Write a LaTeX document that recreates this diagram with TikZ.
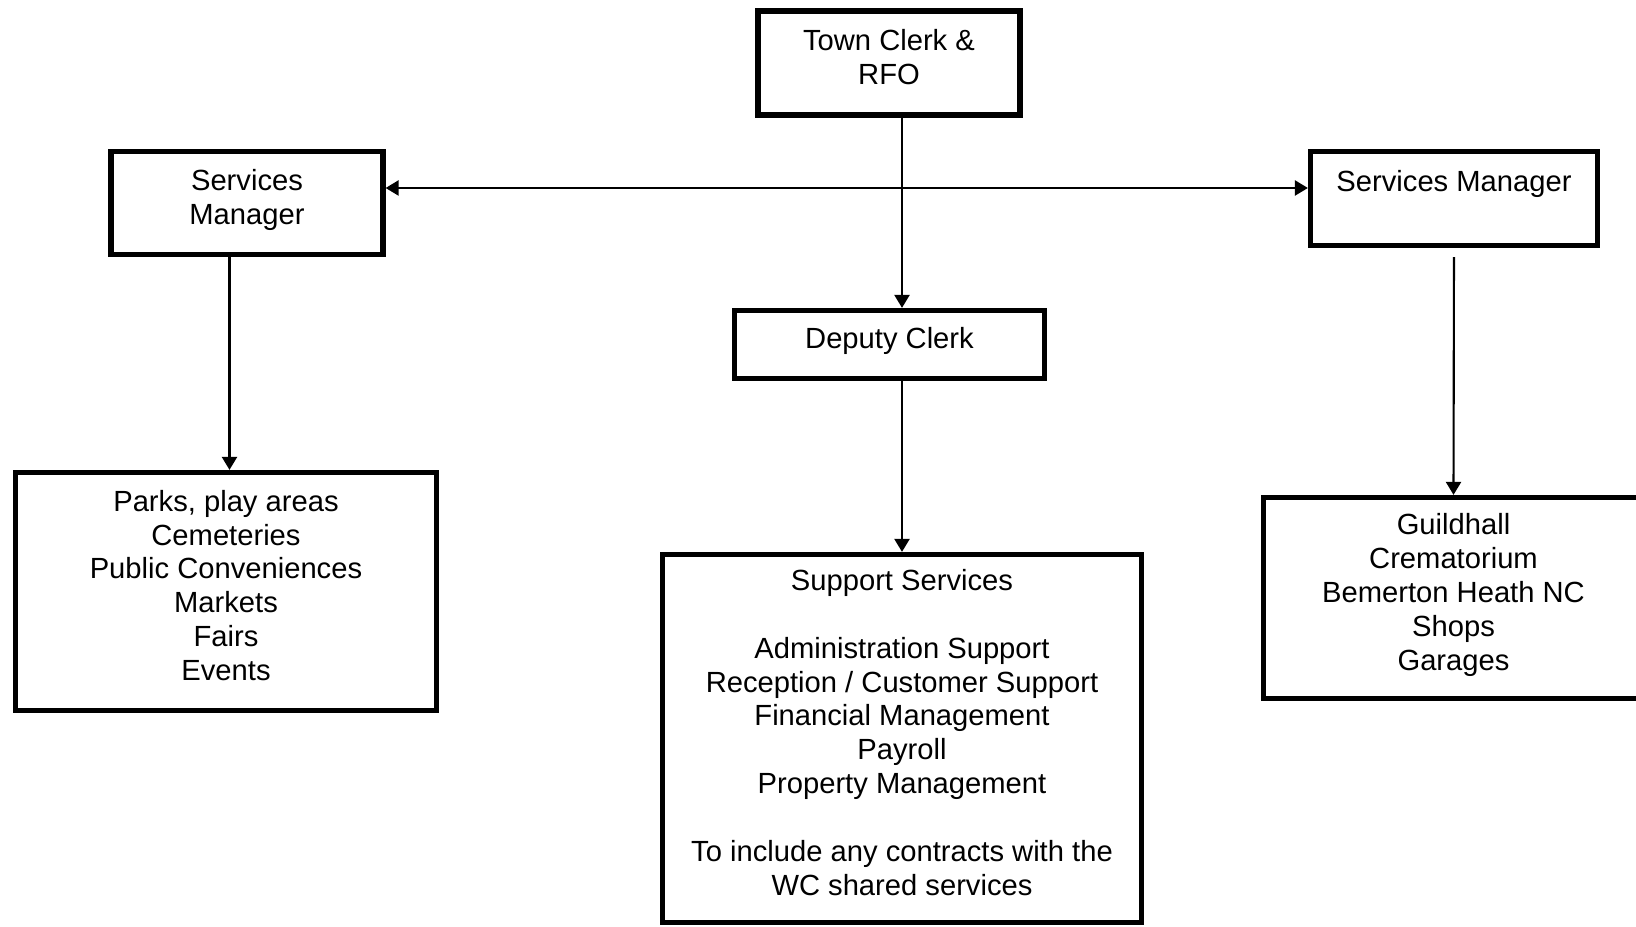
\documentclass[tikz,border=0pt]{standalone}
\usepackage{fontspec}
\setmainfont{Liberation Sans}
\usepackage{tikz}
\usetikzlibrary{arrows.meta}

\begin{document}
\begin{tikzpicture}[
  font=\fontsize{8.3pt}{9.65pt}\selectfont,
  box/.style={draw=black, line width=1.5pt, align=center, inner sep=0pt, fill=white, execute at end node={\rule[-3.5pt]{0pt}{3.5pt}}},
  flow/.style={-{Triangle[length=3.7pt, width=4.3pt]}, line width=0.6pt, draw=black},
  flowboth/.style={flow, {Triangle[length=3.7pt, width=4.3pt]}-{Triangle[length=3.7pt, width=4.3pt]}},
]
\clip (0,0) rectangle (16.36,-9.27);
% top row
\node[box, minimum width=2.62cm, minimum height=1.04cm] (clerk) at (8.89,-0.63) {Town Clerk \&\\RFO};
\node[box, minimum width=2.72cm, minimum height=1.03cm] (lsm) at (2.47,-2.03) {Services\\Manager};
\node[box, minimum width=2.87cm, minimum height=0.94cm, text depth=10.2pt] (rsm) at (14.54,-1.985) {Services Manager};
\node[box, minimum width=3.10cm, minimum height=0.68cm] (deputy) at (8.895,-3.445) {Deputy Clerk};
% service areas
\node[box, minimum width=4.215cm, minimum height=2.38cm] (parks) at (2.26,-5.915) {Parks, play areas\\Cemeteries\\Public Conveniences\\Markets\\Fairs\\Events};
\node[box, minimum width=4.79cm, minimum height=3.68cm] (support) at (9.02,-7.385) {Support Services\\[9.65pt]Administration Support\\Reception / Customer Support\\Financial Management\\Payroll\\Property Management\\[9.65pt]To include any contracts with the\\WC shared services};
\node[box, minimum width=3.80cm, minimum height=2.01cm] (guild) at (14.535,-5.98) {Guildhall\\Crematorium\\Bemerton Heath NC\\Shops\\Garages};
% connectors
\coordinate (link) at ([yshift=0.15cm]lsm.east);
\coordinate (lsmout) at ([xshift=-0.175cm]lsm.south);
\draw[flowboth] (link) -- (link -| rsm.west);
\draw[flow] (clerk.south -| support.north) -- (deputy.north -| support.north);
\draw[flow] (deputy.south -| support.north) -- (support.north);
\draw[flow] (lsmout) -- (lsmout |- parks.north);
\draw[flow, shorten <=0.09cm] (rsm.south) -- (guild.north);
\end{tikzpicture}
\end{document}
